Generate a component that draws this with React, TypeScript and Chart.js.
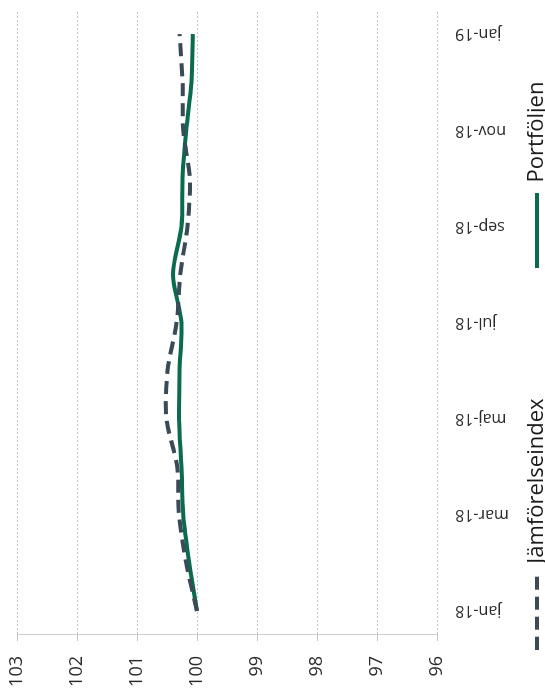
import { useEffect, useRef } from 'react';
import { Chart, registerables } from 'chart.js';

Chart.register(...registerables);

// Monthly index values, base 100 at jan-18
const months = [
  'jan-18', 'feb-18', 'mar-18', 'apr-18', 'maj-18', 'jun-18', 'jul-18',
  'aug-18', 'sep-18', 'okt-18', 'nov-18', 'dec-18', 'jan-19',
];
const benchmarkValues = [
  100.0, 100.18, 100.3, 100.33, 100.51, 100.49, 100.34,
  100.28, 100.16, 100.12, 100.23, 100.24, 100.29,
];
const portfolioValues = [
  100.0, 100.13, 100.23, 100.26, 100.3, 100.29, 100.26,
  100.4, 100.26, 100.24, 100.18, 100.09, 100.07,
];
const seriesNames = ['Jämförelseindex', 'Portföljen'];
const valueMin = 96;
const valueMax = 103;

// The chart is laid out landscape, then turned a quarter turn counter-clockwise
const CHART_W = 698;
const CHART_H = 558;
const PAGE_W = 545;
const PAGE_H = 698;

const BENCH_COLOR = '#3a4a56';
const PORT_COLOR = '#0a6b4e';
const GRID_COLOR = '#c4c4c4';
const TEXT_COLOR = '#2b2b2b';
const LINE_WIDTH = 4;
const BENCH_DASH = [13, 7];
const SWATCH_W = 75;

// trailing spaces after each legend entry, spreading the entries apart
const legendSpacing = [21, 6];

function lineSwatch(color: string, dash: number[]) {
  const c = document.createElement('canvas');
  c.width = SWATCH_W;
  c.height = LINE_WIDTH;
  const ctx = c.getContext('2d')!;
  ctx.strokeStyle = color;
  ctx.lineWidth = LINE_WIDTH;
  ctx.setLineDash(dash);
  ctx.beginPath();
  ctx.moveTo(0, LINE_WIDTH / 2);
  ctx.lineTo(SWATCH_W, LINE_WIDTH / 2);
  ctx.stroke();
  return c;
}

export default function App() {
  const canvasRef = useRef<HTMLCanvasElement>(null);

  useEffect(() => {
    Chart.defaults.font.family = "'Open Sans', sans-serif";
    const swatches = [lineSwatch(BENCH_COLOR, BENCH_DASH), lineSwatch(PORT_COLOR, [])];

    const chart = new Chart(canvasRef.current!, {
      type: 'line',
      data: {
        labels: months,
        datasets: [
          {
            label: seriesNames[0],
            data: benchmarkValues,
            borderColor: BENCH_COLOR,
            backgroundColor: BENCH_COLOR,
            borderWidth: LINE_WIDTH,
            borderDash: BENCH_DASH,
            pointRadius: 0,
            tension: 0.3,
            fill: false,
          },
          {
            label: seriesNames[1],
            data: portfolioValues,
            borderColor: PORT_COLOR,
            backgroundColor: PORT_COLOR,
            borderWidth: LINE_WIDTH,
            pointRadius: 0,
            tension: 0.3,
            fill: false,
          },
        ],
      },
      options: {
        responsive: false,
        animation: false,
        devicePixelRatio: 1,
        layout: { padding: { left: 11, right: 10, top: 17, bottom: 0 } },
        plugins: {
          tooltip: { enabled: false },
          legend: {
            position: 'bottom',
            labels: {
              usePointStyle: true,
              pointStyleWidth: SWATCH_W,
              padding: 10,
              color: '#1a1a1a',
              font: { size: 22 },
              generateLabels: (c: any) =>
                Chart.defaults.plugins.legend.labels
                  .generateLabels(c)
                  .map((item: any, i: number) => ({
                    ...item,
                    pointStyle: swatches[i],
                    text: item.text + ' '.repeat(legendSpacing[i] || 0),
                  })),
            },
          },
        },
        scales: {
          x: {
            offset: true,
            grid: { display: false, drawTicks: false },
            border: { display: false },
            ticks: {
              autoSkip: false,
              minRotation: 90,
              maxRotation: 90,
              padding: 18,
              color: TEXT_COLOR,
              font: { size: 16 },
              callback: (_v: any, i: number) => (i % 2 === 0 ? months[i] : ''),
            },
            afterFit: (s: any) => {
              s.height = 79;
              s.paddingLeft = 0;
              s.paddingRight = 0;
            },
          },
          y: {
            min: valueMin,
            max: valueMax,
            ticks: {
              stepSize: 1,
              padding: 15,
              color: TEXT_COLOR,
              font: { size: 18 },
            },
            grid: {
              color: GRID_COLOR,
              lineWidth: 1,
              tickLength: 6,
              tickColor: GRID_COLOR,
            },
            border: { display: true, color: '#cfcfcf', width: 1, dash: [2, 2] },
            afterFit: (s: any) => {
              s.width = 52;
              s.paddingTop = 0;
              s.paddingBottom = 0;
            },
          },
        },
      },
    });
    return () => chart.destroy();
  }, []);

  return (
    <div
      style={{
        position: 'fixed',
        left: 0,
        top: 0,
        width: PAGE_W,
        height: PAGE_H,
        overflow: 'hidden',
        background: '#ffffff',
      }}
    >
      <div
        style={{
          position: 'absolute',
          left: 0,
          top: 0,
          width: CHART_W,
          height: CHART_H,
          transformOrigin: '0 0',
          transform: `translateY(${CHART_W}px) rotate(-90deg)`,
        }}
      >
        <canvas
          ref={canvasRef}
          width={CHART_W}
          height={CHART_H}
          style={{ display: 'block', width: CHART_W, height: CHART_H }}
        />
      </div>
    </div>
  );
}
